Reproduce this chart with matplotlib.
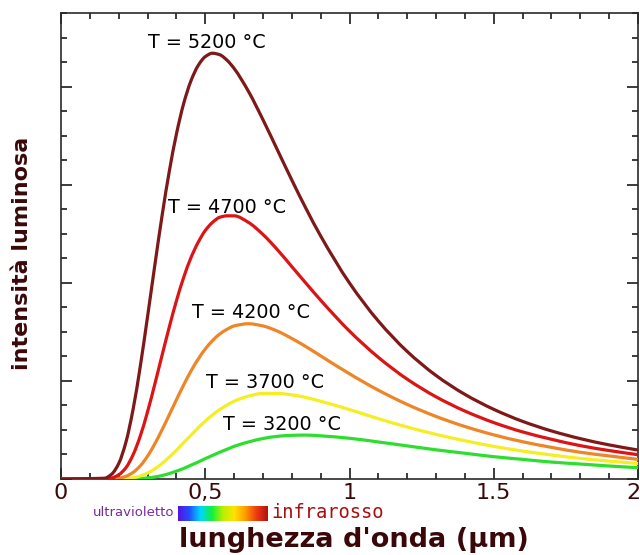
import matplotlib
matplotlib.use("Agg")
import matplotlib.pyplot as plt
import matplotlib.transforms as mtransforms
import numpy as np
from matplotlib.colors import LinearSegmentedColormap
from matplotlib.path import Path
from matplotlib.patches import PathPatch
from matplotlib.ticker import MultipleLocator, FixedLocator, FixedFormatter

# ---------------- data ----------------
wavelength = [0.0, 0.15, 0.175, 0.2, 0.225, 0.25, 0.275, 0.3, 0.325, 0.35, 0.375,
              0.4, 0.425, 0.45, 0.475, 0.5, 0.525, 0.55, 0.575, 0.6, 0.65, 0.7,
              0.75, 0.8, 0.85, 0.9, 1.0, 1.1, 1.2, 1.3, 1.4, 1.5, 1.6, 1.7, 1.8,
              1.9, 2.0]

i_5200 = [0, 0.03, 0.19, 0.63, 1.50, 2.85, 4.61, 6.62, 8.70, 10.71, 12.52,
          14.06, 15.30, 16.22, 16.85, 17.22, 17.36, 17.30, 17.08, 16.74, 15.80,
          14.65, 13.42, 12.19, 11.01, 9.91, 7.99, 6.44, 5.20, 4.22, 3.45, 2.84,
          2.35, 1.96, 1.645, 1.39, 1.18]
i_4700 = [0, 0.006, 0.04, 0.17, 0.46, 0.99, 1.76, 2.74, 3.86, 5.03, 6.18,
          7.26, 8.21, 9.01, 9.64, 10.13, 10.46, 10.67, 10.73, 10.73, 10.46,
          9.97, 9.35, 8.66, 7.97, 7.29, 6.03, 4.96, 4.07, 3.35, 2.77, 2.30,
          1.92, 1.62, 1.36, 1.16, 0.99]
i_4200 = [0, 0, 0.007, 0.03, 0.11, 0.27, 0.54, 0.93, 1.43, 2.00, 2.61,
          3.23, 3.83, 4.39, 4.88, 5.30, 5.64, 5.91, 6.10, 6.24, 6.33,
          6.24, 6.03, 5.73, 5.39, 5.02, 4.29, 3.62, 3.04, 2.55, 2.14, 1.80,
          1.52, 1.29, 1.09, 0.94, 0.80]
i_3700 = [0, 0, 0, 0.004, 0.018, 0.05, 0.125, 0.24, 0.41, 0.63, 0.89,
          1.17, 1.48, 1.78, 2.08, 2.36, 2.61, 2.83, 3.01, 3.17, 3.38,
          3.49, 3.49, 3.43, 3.32, 3.17, 2.83, 2.46, 2.12, 1.82, 1.56, 1.33,
          1.14, 0.98, 0.84, 0.73, 0.63]
i_3200 = [0, 0, 0, 0, 0.001, 0.007, 0.019, 0.043, 0.083, 0.14, 0.22,
          0.32, 0.43, 0.56, 0.69, 0.83, 0.96, 1.09, 1.21, 1.33, 1.51,
          1.65, 1.74, 1.78, 1.79, 1.76, 1.66, 1.51, 1.35, 1.19, 1.05, 0.91,
          0.80, 0.69, 0.61, 0.53, 0.46]

curve_labels = ["T = 5200 °C", "T = 4700 °C", "T = 4200 °C", "T = 3700 °C", "T = 3200 °C"]
xtick_values = [0, 0.5, 1, 1.5, 2]
xtick_labels = ["0", "0,5", "1", "1.5", "2"]

# ---------------- style ----------------
series = [i_5200, i_4700, i_4200, i_3700, i_3200]
colors = ["#7f1818", "#dc1414", "#ee8526", "#f4ee22", "#2ede2e"]
# label offsets from each curve's peak, in pixels (dx, dy)
label_offsets = [(-6, 11), (0, 8), (2, 11), (2, 11), (-24, 11)]


def smooth_path(xs, ys):
    """Smooth (monotone cubic Hermite) Bezier path through the given points."""
    x = np.asarray(xs, float)
    y = np.asarray(ys, float)
    h = np.diff(x)
    d = np.diff(y) / h
    n = len(x)
    m = np.zeros(n)
    for i in range(1, n - 1):
        if d[i - 1] * d[i] > 0:
            w1 = 2 * h[i] + h[i - 1]
            w2 = h[i] + 2 * h[i - 1]
            m[i] = (w1 + w2) / (w1 / d[i - 1] + w2 / d[i])
    m[0] = d[0]
    m[-1] = d[-1]
    verts = [(x[0], y[0])]
    codes = [Path.MOVETO]
    for i in range(n - 1):
        verts += [(x[i] + h[i] / 3, y[i] + m[i] * h[i] / 3),
                  (x[i + 1] - h[i] / 3, y[i + 1] - m[i + 1] * h[i] / 3),
                  (x[i + 1], y[i + 1])]
        codes += [Path.CURVE4] * 3
    return Path(verts, codes)


W, H = 640, 555
fig = plt.figure(figsize=(W / 100, H / 100), dpi=100)
fig.patch.set_facecolor("white")
ax = fig.add_axes([61 / W, 76 / H, 577 / W, 466 / H])

for z, (ys, c) in enumerate(zip(series, colors)):
    patch = PathPatch(smooth_path(wavelength, ys), facecolor="none", edgecolor=c,
                      lw=2.3, joinstyle="round", capstyle="butt",
                      transform=ax.transData, zorder=8 - z)
    ax.add_patch(patch)

for ys, lab, (dx, dy) in zip(series, curve_labels, label_offsets):
    k = int(np.argmax(ys))
    ax.annotate(lab, xy=(wavelength[k], ys[k]), xytext=(dx * 0.72, dy * 0.72),
                textcoords="offset points", ha="center", va="center",
                fontsize=13.8, color="black", family="DejaVu Sans", zorder=10)

ax.set_xlim(0, 2)
ax.set_ylim(0, 19)
ax.xaxis.set_major_locator(FixedLocator(xtick_values))
ax.xaxis.set_major_formatter(FixedFormatter(xtick_labels))
ax.xaxis.set_minor_locator(MultipleLocator(0.1))
ax.yaxis.set_major_locator(MultipleLocator(4))
ax.yaxis.set_minor_locator(MultipleLocator(1))
ax.tick_params(which="both", direction="in", top=True, right=True,
               color="#1a1a1a", width=1.2)
ax.tick_params(which="major", length=8)
ax.tick_params(which="minor", length=4.3)
ax.tick_params(axis="y", which="both", labelleft=False)
ax.tick_params(axis="x", which="major", labelsize=16, labelcolor="#3a0a0a", pad=3)
for sp in ax.spines.values():
    sp.set_linewidth(1.2)
    sp.set_color("#2a2a2a")

# keep the last tick label ("2") inside the canvas
fig.canvas.draw()
last = ax.get_xticklabels()[-1]
last.set_transform(last.get_transform() +
                   mtransforms.ScaledTranslation(-5 / 100, 0, fig.dpi_scale_trans))

# axis titles
fig.text(22 / W, 1 - 253 / H, "intensità luminosa", rotation=90, ha="center",
         va="center", fontsize=16, fontweight="bold", color="#3a0808")
fig.text(354 / W, 1 - 540 / H, "lunghezza d'onda (µm)", ha="center", va="center",
         fontsize=19.5, fontweight="bold", color="#3a0808")

# visible spectrum strip
spec_cmap = LinearSegmentedColormap.from_list(
    "spec", ["#5a10e0", "#2050ff", "#00d8ff", "#10f040", "#b8f000", "#ffe400",
             "#ff9a00", "#ee3a10", "#b01212"])
sax = fig.add_axes([178 / W, 1 - 521 / H, 90 / W, 15 / H])
sax.imshow(np.linspace(0, 1, 256)[None, :], aspect="auto", cmap=spec_cmap)
sax.set_axis_off()
fig.text(174 / W, 1 - 513 / H, "ultravioletto", ha="right", va="center",
         fontsize=9.5, color="#7a2a9a", family="DejaVu Sans")
fig.text(271 / W, 1 - 513 / H, "infrarosso", ha="left", va="center",
         fontsize=13.5, color="#a81010", family="DejaVu Sans Mono")

fig.savefig("out.png", dpi=100, facecolor="white")
